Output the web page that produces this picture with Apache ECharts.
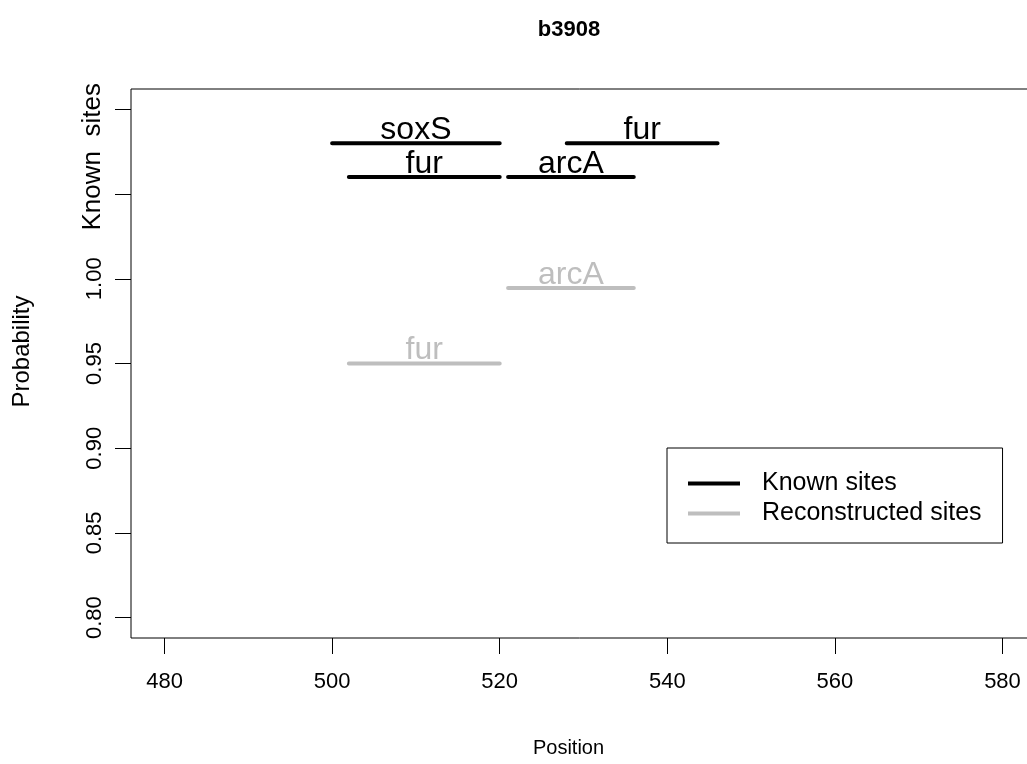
<!DOCTYPE html>
<html>
<head>
<meta charset="utf-8">
<script src="https://cdn.jsdelivr.net/npm/echarts@6/dist/echarts.min.js"></script>
<style>html,body{margin:0;padding:0;background:#fff;}#c{width:1027px;height:764px;}</style>
</head>
<body>
<div id="c"></div>
<script>
// ---- data ----
const xTicks = [480, 500, 520, 540, 560, 580];
const yTicks = [0.80, 0.85, 0.90, 0.95, 1.00, 1.05, 1.10];
const yLabelValues = [0.80, 0.85, 0.90, 0.95, 1.00];
const knownRowLabelValue = 1.072;
const knownRowLabel = 'Known  sites';

const knownNames = ['soxS', 'fur', 'fur', 'arcA'];
const knownStart = [500, 528, 502, 521];
const knownEnd   = [520, 546, 520, 536];
const knownY     = [1.08, 1.08, 1.06, 1.06];

const reconNames = ['arcA', 'fur'];
const reconStart = [521, 502];
const reconEnd   = [536, 520];
const reconProb  = [0.9945, 0.95];

// ---- build ----
const FONT = 'Liberation Sans, Arial, Helvetica, sans-serif';
const BLACK = '#000000';
const GRAY = '#bebebe';

function segs(s, e, y) {
  const out = [];
  s.forEach((v, i) => {
    if (i > 0) out.push('-');
    out.push([s[i], y[i]]);
    out.push([e[i], y[i]]);
  });
  return out;
}
function mids(s, e, y, n) {
  return s.map((v, i) => [(s[i] + e[i]) / 2, y[i], n[i]]);
}

const chart = echarts.init(document.getElementById('c'), null, {renderer: 'canvas'});
chart.setOption({
  animation: false,
  backgroundColor: '#ffffff',
  title: {
    text: 'b3908',
    left: 564,
    textAlign: 'center',
    top: 14,
    textStyle: {fontFamily: FONT, fontSize: 22, fontWeight: 'bold', color: BLACK}
  },
  grid: {
    left: 131, top: 89, width: 905, height: 549,
    outerBoundsMode: 'none', containLabel: false,
    show: true, borderColor: BLACK, borderWidth: 1, backgroundColor: 'transparent'
  },
  xAxis: {
    type: 'value', min: 476, max: 584,
    name: 'Position', nameLocation: 'middle', nameGap: 100,
    nameTextStyle: {fontFamily: FONT, fontSize: 20, color: BLACK, padding: [0, 30, 0, 0]},
    axisLine: {show: false},
    splitLine: {show: false},
    axisTick: {show: true, customValues: xTicks, length: 16, lineStyle: {color: BLACK}},
    axisLabel: {customValues: xTicks, margin: 33, fontFamily: FONT, fontSize: 22, color: BLACK}
  },
  yAxis: {
    type: 'value', min: 0.788, max: 1.112,
    name: 'Probability', nameLocation: 'middle', nameGap: 97,
    nameTextStyle: {fontFamily: FONT, fontSize: 24, color: BLACK, padding: [0, 0, 0, 24]},
    axisLine: {show: false},
    splitLine: {show: false},
    axisTick: {show: true, customValues: yTicks, length: 16, lineStyle: {color: BLACK}},
    axisLabel: {
      customValues: yLabelValues.concat([knownRowLabelValue]),
      rotate: 90, margin: 25, fontFamily: FONT, fontSize: 22, color: BLACK,
      formatter: v => Math.abs(v - knownRowLabelValue) < 1e-6 ? '{k|' + knownRowLabel + '}' : v.toFixed(2),
      rich: {k: {fontFamily: FONT, fontSize: 26, color: BLACK}}
    }
  },
  legend: {
    orient: 'vertical',
    left: 667, top: 448,
    data: [
      {name: 'Known sites', icon: 'rect'},
      {name: 'Reconstructed sites', icon: 'rect'}
    ],
    itemWidth: 52, itemHeight: 4, itemGap: 3,
    padding: [22, 21, 16, 21],
    borderColor: BLACK, borderWidth: 1, borderRadius: 0,
    backgroundColor: '#fff',
    textStyle: {fontFamily: FONT, fontSize: 25, lineHeight: 25, color: BLACK, padding: [2, 0, 0, 17]}
  },
  series: [
    {
      name: 'Known sites', type: 'line', data: segs(knownStart, knownEnd, knownY),
      showSymbol: false, symbol: 'none', connectNulls: false,
      lineStyle: {color: BLACK, width: 4, cap: 'round'},
      itemStyle: {color: BLACK}, z: 3
    },
    {
      name: 'Reconstructed sites', type: 'line', data: segs(reconStart, reconEnd, reconProb),
      showSymbol: false, symbol: 'none', connectNulls: false,
      lineStyle: {color: GRAY, width: 4, cap: 'round'},
      itemStyle: {color: GRAY}, z: 2
    },
    {
      name: 'knownLabels', type: 'scatter', data: mids(knownStart, knownEnd, knownY, knownNames),
      symbolSize: 0, silent: true, itemStyle: {opacity: 1, color: BLACK},
      label: {show: true, position: 'top', distance: -3, formatter: p => p.data[2], opacity: 1,
              fontFamily: FONT, fontSize: 32, lineHeight: 32, color: BLACK}
    },
    {
      name: 'reconLabels', type: 'scatter', data: mids(reconStart, reconEnd, reconProb, reconNames),
      symbolSize: 0, silent: true, itemStyle: {opacity: 1, color: GRAY},
      label: {show: true, position: 'top', distance: -3, formatter: p => p.data[2], opacity: 1,
              fontFamily: FONT, fontSize: 32, lineHeight: 32, color: GRAY}
    }
  ]
});
</script>
</body>
</html>
